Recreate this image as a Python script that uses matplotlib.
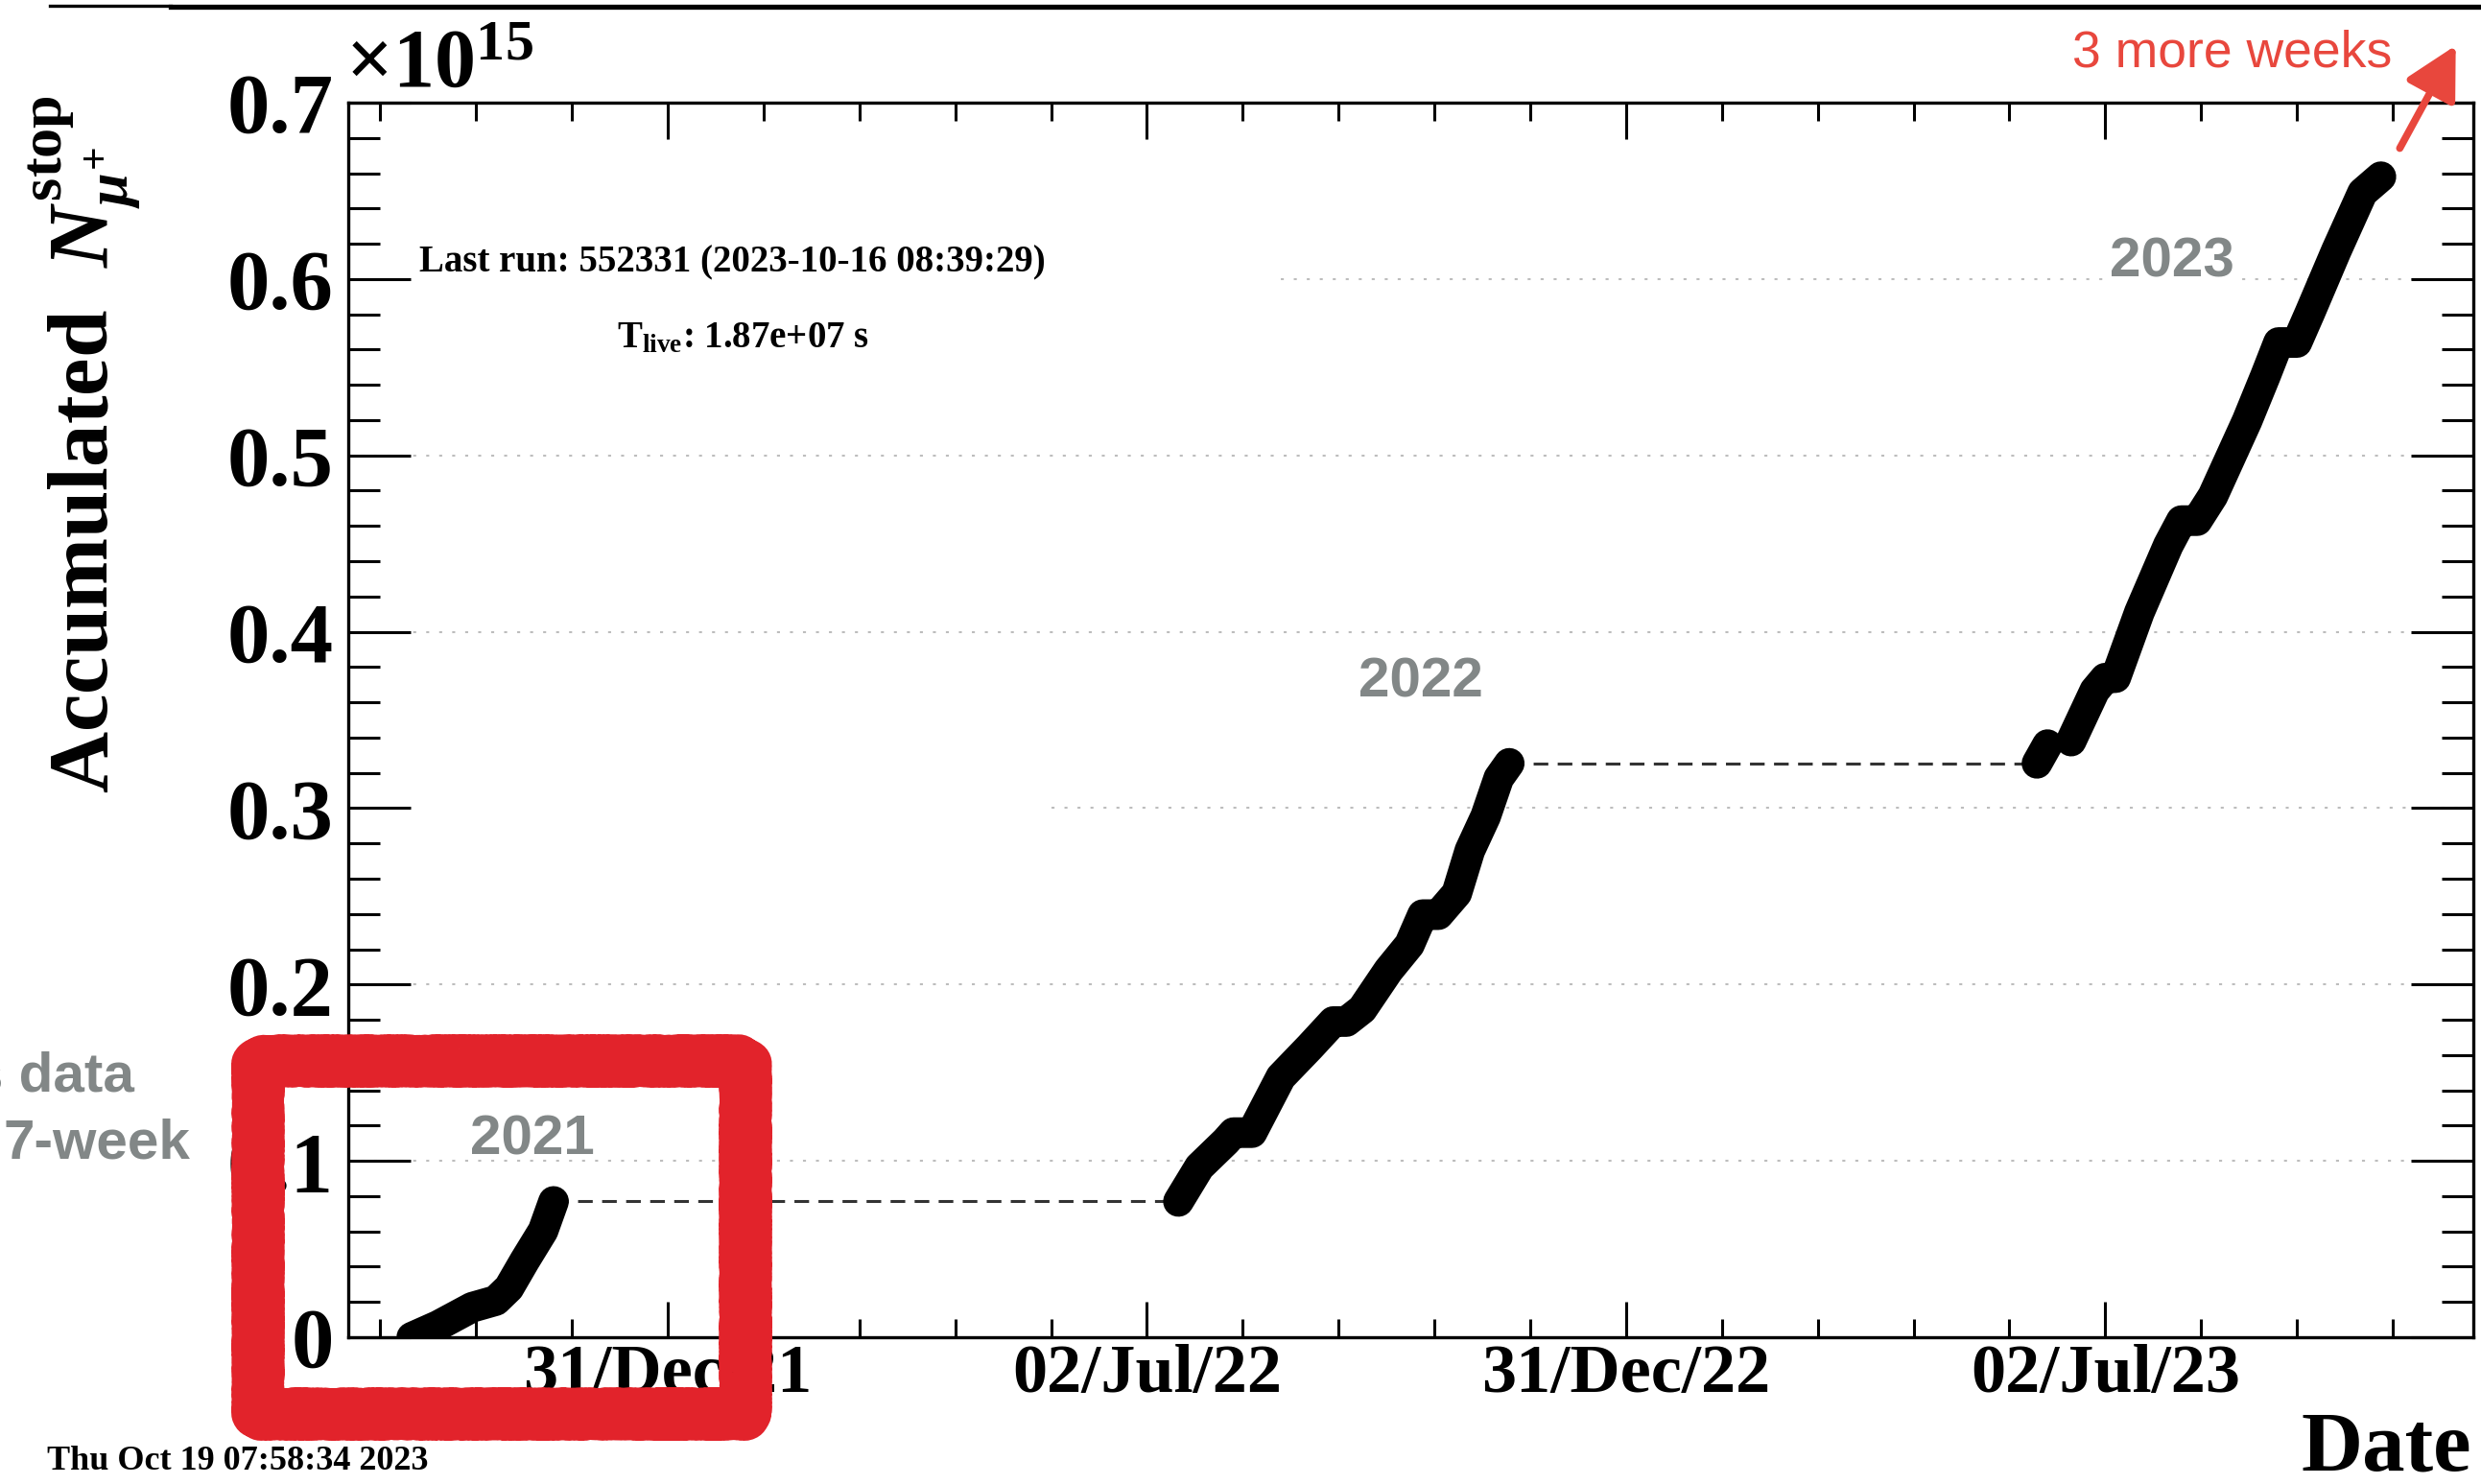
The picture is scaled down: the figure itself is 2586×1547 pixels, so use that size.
import numpy as np
import matplotlib
matplotlib.use("Agg")
import matplotlib.pyplot as plt
import matplotlib.dates as mdates
from matplotlib.ticker import FixedLocator, MultipleLocator, FuncFormatter
from matplotlib.patches import Rectangle, FancyArrowPatch
from matplotlib.lines import Line2D

plt.rcParams["font.family"] = ["Liberation Serif", "DejaVu Serif"]
plt.rcParams["font.weight"] = "bold"
plt.rcParams["mathtext.fontset"] = "custom"
plt.rcParams["mathtext.rm"] = "Liberation Serif:bold"
plt.rcParams["mathtext.it"] = "Liberation Serif:italic:bold"
plt.rcParams["mathtext.bf"] = "Liberation Serif:bold"

# accumulated number of stopped mu+ (units of 1e15)
dates_2021 = ["2021-09-25", "2021-10-05", "2021-10-18", "2021-10-27", "2021-11-01",
              "2021-11-07", "2021-11-14", "2021-11-18"]
nstop_2021 = [0.0, 0.0066, 0.017, 0.0208, 0.028, 0.0434, 0.0604, 0.077]

dates_2022 = ["2022-07-14", "2022-07-22", "2022-08-01", "2022-08-04", "2022-08-11",
              "2022-08-22", "2022-09-02", "2022-09-11", "2022-09-16", "2022-09-22",
              "2022-10-02", "2022-10-10", "2022-10-15", "2022-10-21", "2022-10-28",
              "2022-11-02", "2022-11-08", "2022-11-13", "2022-11-17"]
nstop_2022 = [0.077, 0.0966, 0.111, 0.116, 0.116, 0.1475, 0.1645, 0.179, 0.179, 0.186,
              0.208, 0.2226, 0.2396, 0.2396, 0.2517, 0.276, 0.2953, 0.317, 0.3254]

dates_2023a = ["2023-06-06", "2023-06-10"]
nstop_2023a = [0.3254, 0.336]

dates_2023b = ["2023-06-19", "2023-06-28", "2023-07-02", "2023-07-06", "2023-07-15",
               "2023-07-26", "2023-07-31", "2023-08-06", "2023-08-12", "2023-08-25",
               "2023-09-01", "2023-09-06", "2023-09-13", "2023-09-18", "2023-09-28",
               "2023-10-08", "2023-10-15"]
nstop_2023b = [0.338, 0.3666, 0.3737, 0.374, 0.411, 0.449, 0.463, 0.463, 0.477, 0.5195,
               0.545, 0.564, 0.564, 0.581, 0.616, 0.649, 0.658]

year_labels = ["2021", "2022", "2023"]
y_ticks = [0.0, 0.1, 0.2, 0.3, 0.4, 0.5, 0.6, 0.7]
grid_levels = [0.1, 0.2, 0.3, 0.4, 0.5, 0.6]


def d(lst):
    return np.array(lst, dtype="datetime64[m]")


W, H = 2586, 1547
fig = plt.figure(figsize=(W / 100, H / 100), dpi=100)
ax = fig.add_axes([363 / W, 1 - 1394 / H, (2578 - 363) / W, (1394 - 107) / H])

# ROOT-like time axis: half-year major divisions, 5 sub-divisions
t0 = mdates.date2num(np.datetime64("2021-12-31T12:00"))
ax.set_xlim(t0 - 121.7, t0 + 687.7)
ax.set_ylim(0, 0.7)
ax.xaxis.set_major_locator(FixedLocator([t0 + 182.5 * k for k in range(4)]))
ax.xaxis.set_minor_locator(FixedLocator([t0 + 36.5 * k for k in range(-3, 19)]))
ax.xaxis.set_major_formatter(mdates.DateFormatter("%d/%b/%y"))
ax.yaxis.set_major_locator(FixedLocator(y_ticks))
ax.yaxis.set_minor_locator(MultipleLocator(0.02))
ax.yaxis.set_major_formatter(FuncFormatter(lambda v, p: "0" if abs(v) < 1e-9 else f"{v:.1f}"))

ax.tick_params(which="both", direction="in", top=True, right=True, width=2.2, color="black")
ax.tick_params(axis="x", which="major", length=27, labelsize=52, pad=5)
ax.tick_params(axis="x", which="minor", length=14)
ax.tick_params(axis="y", which="major", length=47, labelsize=64, pad=11)
ax.tick_params(axis="y", which="minor", length=24)
for s in ax.spines.values():
    s.set_linewidth(2.4)

# dotted grid (parts hidden by boxes on the slide)
grid_start = {0.3: 0.331, 0.6: 0.439}
for g in grid_levels:
    ax.axhline(g, xmin=grid_start.get(g, 0.0), xmax=1, color="#bdbdbd", lw=1.5,
               ls=(0, (1.5, 5)), zorder=1)

line_kw = dict(color="black", lw=23, solid_capstyle="round", solid_joinstyle="round", zorder=3)
ax.plot(d(dates_2021), nstop_2021, **line_kw)
ax.plot(d(dates_2022), nstop_2022, **line_kw)
ax.plot(d(dates_2023a), nstop_2023a, **line_kw)
ax.plot(d(dates_2023b), nstop_2023b, **line_kw)

dash_kw = dict(color="#333333", lw=2.2, ls=(0, (5, 3.2)), zorder=2)
ax.plot(d([dates_2021[-1], dates_2022[0]]), [nstop_2021[-1], nstop_2021[-1]], **dash_kw)
ax.plot(d([dates_2022[-1], dates_2023a[0]]), [nstop_2022[-1], nstop_2022[-1]], **dash_kw)

gray = "#828787"
sans = ["Liberation Sans", "DejaVu Sans"]
ax.text(0.0867, 0.1600, year_labels[0], transform=ax.transAxes, ha="center", va="center",
        fontsize=42, color=gray, family=sans, weight="bold")
ax.text(0.5047, 0.5302, year_labels[1], transform=ax.transAxes, ha="center", va="center",
        fontsize=42, color=gray, family=sans, weight="bold")
ax.text(0.8582, 0.8704, year_labels[2], transform=ax.transAxes, ha="center", va="center",
        fontsize=42, color=gray, family=sans, weight="bold",
        bbox=dict(facecolor="white", edgecolor="none", pad=1))

# ROOT texts
fig.text(437 / W, 1 - 283 / H, "Last run: 552331 (2023-10-16 08:39:29)", fontsize=28,
         ha="left", va="baseline")
fig.text(643 / W, 1 - 362 / H, r"T$_{\rm live}$: 1.87e+07 s", fontsize=28,
         ha="left", va="baseline")
fig.text(49 / W, 1 - 1532 / H, "Thu Oct 19 07:58:34 2023", fontsize=26,
         ha="left", va="baseline")
fig.text(2576 / W, 1 - 1532 / H, "Date", fontsize=64, ha="right", va="baseline")
fig.text(360 / W, 1 - 91 / H, r"×10$^{15}$", fontsize=62, ha="left", va="baseline")
fig.text(88 / W, 1 - 99 / H, r"Accumulated  $N^{\rm stop}_{\mu^{+}}$", fontsize=64,
         rotation=90, ha="center", va="top")

# slide annotations
fig.text(140 / W, 1 - 1138 / H, "s data", fontsize=42, color=gray, family=sans,
         weight="bold", ha="right", va="baseline")
fig.text(198 / W, 1 - 1207 / H, "7-week", fontsize=42, color=gray, family=sans,
         weight="bold", ha="right", va="baseline")
fig.text(2327 / W, 1 - 69 / H, "3 more weeks", fontsize=38.5, color="#e8473d",
         family=sans, weight="normal", ha="center", va="baseline")

arrow = FancyArrowPatch((2500 / W, 1 - 157 / H), (2561 / W, 1 - 45 / H),
                        transform=fig.transFigure, arrowstyle="-|>,head_length=1.5,head_width=0.8",
                        mutation_scale=22, color="#e8473d", lw=5.5)
fig.add_artist(arrow)

# hand-drawn red box
box = Rectangle((269 / W, 1 - 1474 / H), (777 - 269) / W, (1474 - 1106) / H,
                transform=fig.transFigure, fill=False, edgecolor="#e2232b", lw=36,
                joinstyle="round", capstyle="round", zorder=10)
box.set_sketch_params(scale=3, length=10, randomness=3)
fig.add_artist(box)

fig.add_artist(Line2D([52 / W, 178 / W], [1 - 6.3 / H] * 2, transform=fig.transFigure,
                      color="black", lw=2.4))
fig.add_artist(Line2D([178 / W, 1.0], [1 - 7.3 / H] * 2, transform=fig.transFigure,
                      color="black", lw=3.8))

fig.savefig("out.png", dpi=100, facecolor="white")
